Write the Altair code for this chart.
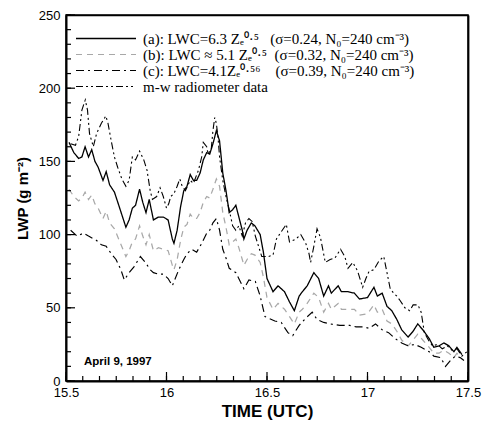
import altair as alt
import pandas as pd

NB = "\u00a0"
series_labels = [
    "(a): LWC=6.3 Z\u2091\u2070\u00b7\u2075" + NB * 3 + "(\u03c3=0.24, N\u2080=240 cm\u207b\u00b3)",
    "(b): LWC \u2248 5.1 Z\u2091\u2070\u00b7\u2075" + NB * 2 + "(\u03c3=0.32, N\u2080=240 cm\u207b\u00b3)",
    "(c): LWC=4.1Z\u2091\u2070\u00b7\u2075\u2076" + NB * 4 + "(\u03c3=0.39, N\u2080=240 cm\u207b\u00b3)",
    "m-w radiometer data",
]

a_time = [15.515, 15.539, 15.563, 15.579, 15.595, 15.612, 15.628, 15.644, 15.66, 15.684,
          15.70, 15.717, 15.741, 15.765, 15.798, 15.814, 15.83, 15.846, 15.866, 15.882,
          15.898, 15.914, 15.935, 15.96, 15.984, 16.008, 16.029, 16.037, 16.053, 16.07,
          16.086, 16.102, 16.118, 16.134, 16.15, 16.167, 16.183, 16.2, 16.215, 16.231,
          16.248, 16.264, 16.28, 16.296, 16.312, 16.329, 16.345, 16.36, 16.377, 16.385,
          16.401, 16.422, 16.44, 16.466, 16.482, 16.5, 16.53, 16.555, 16.587, 16.612,
          16.636, 16.66, 16.676, 16.70, 16.733, 16.757, 16.782, 16.806, 16.82, 16.854,
          16.87, 16.903, 16.935, 16.96, 17.0, 17.032, 17.049, 17.073, 17.097, 17.121,
          17.146, 17.17, 17.202, 17.227, 17.25, 17.275, 17.307, 17.33, 17.356, 17.38,
          17.405, 17.43, 17.445, 17.47]
a_lwp = [163, 156, 152, 153, 160, 153, 158, 150, 146, 137,
         143, 134, 129, 119, 105, 110, 118, 120, 131, 122,
         115, 124, 110, 112, 112, 110, 97, 94, 103, 119,
         130, 133, 141, 137, 137, 142, 151, 156, 155, 162,
         171, 164, 142, 130, 115, 117, 120, 112, 103, 97,
         103, 108, 106, 100, 88, 70, 61, 65, 61, 54,
         48, 58, 61, 65, 74, 70, 58, 65, 60, 65,
         61, 61, 60, 56, 57, 64, 58, 60, 51, 48,
         42, 35, 30, 34, 39, 35, 29, 23, 24, 26,
         24, 20, 23, 18]

b_time = a_time
b_lwp = [131, 126, 123, 125, 129, 124, 127, 121, 118, 111,
         116, 108, 104, 96, 85, 89, 95, 97, 106, 99,
         93, 100, 89, 91, 90, 89, 79, 76, 83, 96,
         105, 107, 114, 111, 111, 115, 122, 126, 125, 131,
         138, 133, 115, 105, 93, 95, 97, 91, 83, 79,
         83, 87, 86, 81, 71, 57, 49, 53, 49, 44,
         39, 47, 49, 53, 60, 57, 47, 53, 49, 53,
         49, 49, 49, 45, 46, 52, 47, 49, 41, 39,
         34, 28, 24, 28, 32, 28, 23, 19, 19, 21,
         19, 16, 19, 15]

c_time = [15.523, 15.555, 15.587, 15.612, 15.652, 15.676, 15.70, 15.725, 15.749, 15.773,
          15.79, 15.814, 15.838, 15.87, 15.895, 15.919, 15.935, 15.96, 15.984, 16.008,
          16.029, 16.061, 16.086, 16.102, 16.126, 16.15, 16.175, 16.2, 16.215, 16.231,
          16.248, 16.264, 16.28, 16.296, 16.312, 16.345, 16.385, 16.41, 16.442, 16.466,
          16.49, 16.539, 16.571, 16.604, 16.628, 16.66, 16.693, 16.725, 16.749, 16.782,
          16.814, 16.862, 16.911, 16.943, 16.976, 17.008, 17.04, 17.073, 17.105, 17.137,
          17.17, 17.202, 17.235, 17.267, 17.307, 17.33, 17.364, 17.388, 17.413, 17.437,
          17.461, 17.48]
c_lwp = [103, 99, 101, 99, 96, 93, 92, 87, 83, 76,
         69, 74, 78, 85, 81, 76, 74, 73, 73, 70,
         65, 76, 83, 87, 90, 88, 94, 101, 103, 108,
         111, 103, 90, 84, 77, 74, 63, 69, 68, 58,
         44, 41, 40, 33, 31, 38, 43, 47, 42, 40,
         39, 38, 38, 37, 37, 36, 39, 35, 33, 29,
         26, 24, 25, 23, 20, 17, 16, 10, 14, 17,
         16, 14]

r_time = [15.523, 15.547, 15.563, 15.579, 15.596, 15.607, 15.617, 15.636, 15.652, 15.676,
          15.698, 15.709, 15.725, 15.741, 15.757, 15.778, 15.798, 15.814, 15.83, 15.846,
          15.866, 15.887, 15.903, 15.919, 15.93, 15.951, 15.968, 15.984, 16.0, 16.011,
          16.021, 16.037, 16.053, 16.066, 16.078, 16.094, 16.118, 16.134, 16.159, 16.175,
          16.183, 16.2, 16.207, 16.223, 16.231, 16.24, 16.248, 16.256, 16.264, 16.28,
          16.296, 16.312, 16.329, 16.345, 16.36, 16.377, 16.393, 16.41, 16.426, 16.442,
          16.458, 16.474, 16.506, 16.53, 16.547, 16.571, 16.596, 16.612, 16.644, 16.668,
          16.693, 16.709, 16.717, 16.733, 16.749, 16.766, 16.79, 16.814, 16.838, 16.866,
          16.887, 16.903, 16.927, 16.951, 16.976, 16.992, 17.008, 17.032, 17.057, 17.081,
          17.097, 17.113, 17.13, 17.146, 17.162, 17.186, 17.21, 17.227, 17.251, 17.267,
          17.283, 17.307, 17.324, 17.348, 17.372, 17.397, 17.42, 17.445, 17.47, 17.494]
r_lwp = [162, 161, 167, 185, 192, 185, 169, 160, 169, 176,
         181, 176, 164, 153, 146, 138, 133, 137, 153, 151,
         157, 151, 144, 130, 124, 126, 132, 126, 118, 121,
         126, 128, 133, 138, 133, 130, 137, 135, 144, 153,
         163, 160, 155, 159, 171, 180, 176, 167, 153, 137,
         126, 117, 106, 103, 106, 99, 108, 111, 109, 99,
         92, 85, 85, 86, 97, 102, 107, 95, 97, 100,
         94, 87, 81, 92, 104, 98, 81, 83, 84, 90,
         85, 77, 81, 75, 64, 70, 75, 76, 82, 85,
         74, 63, 60, 58, 55, 50, 48, 52, 52, 47,
         33, 27, 24, 25, 22, 24, 21, 22, 17, 20]

x_major_ticks = [15.5, 16.0, 16.5, 17.0, 17.5]
x_minor_ticks = [15.5 + k / 12 for k in range(25)]
y_major_ticks = [0, 50, 100, 150, 200, 250]
y_minor_ticks = list(range(0, 251, 10))
annotation = "April 9, 1997"

W, H = 402, 366

frames = []
for lab, t, v in zip(series_labels, [a_time, b_time, c_time, r_time],
                     [a_lwp, b_lwp, c_lwp, r_lwp]):
    frames.append(pd.DataFrame({"time": t, "lwp": v, "series": lab}))
df = pd.concat(frames, ignore_index=True)

xs = alt.Scale(domain=[15.5, 17.5], nice=False, zero=False)
ys = alt.Scale(domain=[0, 250], nice=False)

legend = alt.Legend(
    title=None, orient="none", legendX=9, legendY=17, padding=0,
    symbolType="stroke", symbolSize=3600, symbolStrokeWidth=1.3,
    clipHeight=13, rowPadding=0, labelOffset=6,
    labelFont="Liberation Serif", labelFontSize=15, labelColor="black",
    labelLimit=600,
)

x_main = alt.Axis(values=x_major_ticks, ticks=False, grid=False, domain=True,
                  domainColor="black", domainWidth=2, labelFont="Liberation Sans",
                  labelFontSize=13, labelColor="black", labelPadding=5,
                  labelExpr="datum.value", title="TIME (UTC)",
                  titleFont="Liberation Sans", titleFontSize=17, titleFontWeight="bold",
                  titleColor="black", titlePadding=4, labelFlush=False)
y_main = alt.Axis(values=y_major_ticks, ticks=False, grid=False, domain=True,
                  domainColor="black", domainWidth=2, labelFont="Liberation Sans",
                  labelFontSize=13, labelColor="black", labelPadding=6,
                  title="LWP (g m\u207b\u00b2)", titleFont="Liberation Sans",
                  titleFontSize=15, titleFontWeight="bold", titleColor="black",
                  titlePadding=8, labelFlush=False)

lines = alt.Chart(df).mark_line(clip=True).encode(
    x=alt.X("time:Q", scale=xs, axis=x_main),
    y=alt.Y("lwp:Q", scale=ys, axis=y_main),
    color=alt.Color("series:N", scale=alt.Scale(domain=series_labels,
                    range=["black", "#a8a8a8", "black", "black"]), legend=legend),
    strokeDash=alt.StrokeDash("series:N", scale=alt.Scale(domain=series_labels,
                    range=[[1, 0], [6, 5], [8, 4, 2, 4], [7, 3, 2, 3, 2, 3]]), legend=legend),
    strokeWidth=alt.StrokeWidth("series:N", scale=alt.Scale(domain=series_labels,
                    range=[1.3, 1.1, 1.2, 1.6]), legend=None),
)

# top/right edges of the frame, drawn as domain-only axes
frame_axes = alt.Chart(df).mark_point(opacity=0).encode(
    x=alt.X("time:Q", scale=xs, axis=alt.Axis(
        orient="top", domain=True, domainColor="black", domainWidth=1.5,
        ticks=False, labels=False, grid=False, title=None)),
    y=alt.Y("lwp:Q", scale=ys, axis=alt.Axis(
        orient="right", domain=True, domainColor="black", domainWidth=1.8,
        ticks=False, labels=False, grid=False, title=None)),
)


def x_ticks(vals, size):
    return alt.Chart(pd.DataFrame({"time": vals})).mark_rule(
        color="black", strokeWidth=1.2).encode(
        x=alt.X("time:Q", scale=xs, axis=None), y=alt.value(H), y2=alt.value(H - size))


def y_ticks(vals, size):
    return alt.Chart(pd.DataFrame({"lwp": vals})).mark_rule(
        color="black", strokeWidth=1.2).encode(
        y=alt.Y("lwp:Q", scale=ys, axis=None), x=alt.value(0), x2=alt.value(size))


note = alt.Chart(pd.DataFrame({"label": [annotation]})).mark_text(
    align="left", baseline="middle", font="Liberation Sans", fontSize=11.5,
    fontWeight="bold", color="black"
).encode(text="label:N", x=alt.value(18), y=alt.value(H - 19))

chart = alt.layer(
    lines, frame_axes,
    x_ticks(x_major_ticks, 9), x_ticks(x_minor_ticks, 5),
    y_ticks(y_major_ticks, 9), y_ticks(y_minor_ticks, 5),
    note,
).resolve_axis(
    x="independent", y="independent"
).properties(
    width=W, height=H,
    padding={"left": 58, "top": 7, "right": 17, "bottom": 39},
    autosize=alt.AutoSizeParams(type="none"),
).configure(
    background="white",
    view=alt.ViewConfig(stroke="black", strokeWidth=1.5),
)

chart.save("out.html", embed_options={"renderer": "svg", "actions": False})
